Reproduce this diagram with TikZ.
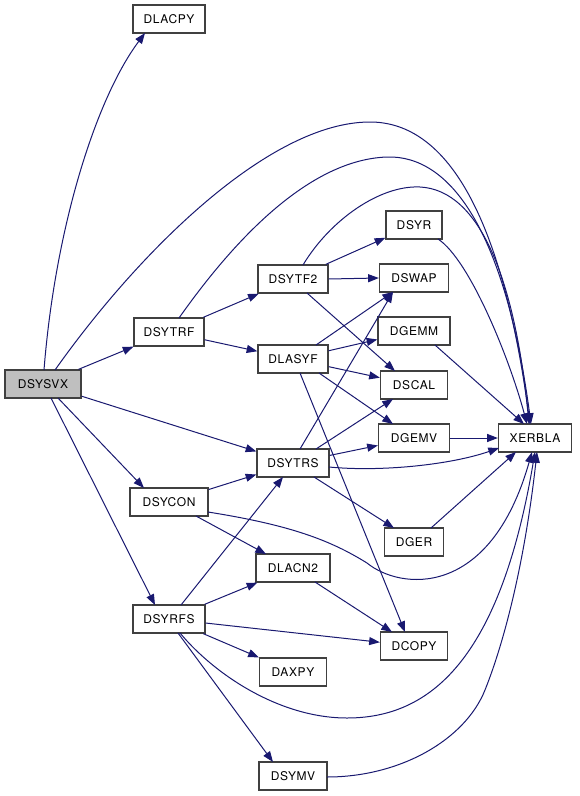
\documentclass[tikz,border=0pt]{standalone}
\usepackage{fontspec}
\setmainfont[LetterSpace=5]{TeX Gyre Heros}
\usetikzlibrary{arrows.meta,calc}
\definecolor{edgecol}{HTML}{191970}
\definecolor{boxcol}{HTML}{404040}
\definecolor{rootfill}{HTML}{BFBFBF}
\begin{document}
\begin{tikzpicture}[x=0.75pt,y=-0.75pt,
  fn/.style={draw=boxcol, line width=1pt, fill=white, minimum height=21pt, inner sep=0pt, font=\fontsize{9}{11}\selectfont},
  e/.style={draw=edgecol, line width=0.75pt, -{Triangle[length=8pt,width=6pt]}}]
\useasboundingbox (0,0) rectangle (579,796);
% nodes
\node[fn, fill=rootfill, minimum width=57pt] (sysvx) at (43,384) {DSYSVX};
\node[fn, minimum width=54pt] (lacpy) at (169,19) {DLACPY};
\node[fn, minimum width=52.5pt] (sytrf) at (169,332) {DSYTRF};
\node[fn, minimum width=52.5pt] (sytf2) at (293,279) {DSYTF2};
\node[fn, minimum width=52.5pt] (lasyf) at (293,359) {DLASYF};
\node[fn, minimum width=42pt] (syr) at (414,225) {DSYR};
\node[fn, minimum width=51.75pt] (swap) at (414,278) {DSWAP};
\node[fn, minimum width=54pt] (gemm) at (414,331) {DGEMM};
\node[fn, minimum width=50.25pt] (scal) at (414,385) {DSCAL};
\node[fn, minimum width=53.25pt] (gemv) at (414,438) {DGEMV};
\node[fn, minimum width=54.75pt] (xerbla) at (535,438) {XERBLA};
\node[fn, minimum width=54pt] (sytrs) at (293,463) {DSYTRS};
\node[fn, minimum width=58.5pt] (sycon) at (169,502) {DSYCON};
\node[fn, minimum width=44.25pt] (ger) at (414,542) {DGER};
\node[fn, minimum width=55.5pt] (lacn2) at (293,568) {DLACN2};
\node[fn, minimum width=54pt] (syrfs) at (169,619) {DSYRFS};
\node[fn, minimum width=50.25pt] (dcopy) at (414,646) {DCOPY};
\node[fn, minimum width=50.25pt] (daxpy) at (293,672) {DAXPY};
\node[fn, minimum width=51pt] (symv) at (293,776) {DSYMV};
% edges from DSYSVX
\draw[e] ($(sysvx)+(1,-14)$) .. controls (55,230) and (95,100) .. ($(lacpy)+(-24,14)$);
\draw[e] ($(sysvx)+(12,-14)$) .. controls (140,250) and (270,122) .. (370,122) .. controls (440,122) and (500,200) .. ($(xerbla)+(-5,-14)$);
\draw[e] (sysvx) -- (sytrf);
\draw[e] (sysvx) -- (sytrs);
\draw[e] ($(sysvx)+(15,14)$) -- ($(sycon)+(-25,-14)$);
\draw[e] ($(sysvx)+(8,14)$) -- ($(syrfs)+(-14,-14)$);
% DSYTRF
\draw[e] (sytrf) -- (sytf2);
\draw[e] (sytrf) -- (lasyf);
\draw[e] ($(sytrf)+(10,-14)$) .. controls (220,260) and (300,160) .. (387,157) .. controls (450,155) and (505,230) .. ($(xerbla)+(-4,-14)$);
% DSYTF2
\draw[e] (sytf2) -- (syr);
\draw[e] (sytf2.east) -- (swap.west);
\draw[e] ($(sytf2)+(14,14)$) -- ($(scal)+(-19,-14)$);
\draw[e] ($(sytf2)+(10,-14)$) .. controls (330,220) and (380,185) .. (420,187) .. controls (480,190) and (515,280) .. ($(xerbla)+(-6,-14)$);
% DSYR, DGEMM, DGEMV, DGER to XERBLA
\draw[e] ($(syr)+(24,14)$) .. controls (470,260) and (510,360) .. ($(xerbla)+(-8,-14)$);
\draw[e] ($(gemm)+(21,14)$) -- ($(xerbla)+(-11,-14)$);
\draw[e] (gemv.east) -- (xerbla.west);
\draw[e] ($(ger)+(17,-14)$) -- ($(xerbla)+(-19,14)$);
% DLASYF
\draw[e] ($(lasyf)+(23,-14)$) -- ($(swap)+(-21,14)$);
\draw[e] (lasyf) -- (gemm);
\draw[e] (lasyf) -- (scal);
\draw[e] ($(lasyf)+(26,14)$) -- ($(gemv)+(-21,-14)$);
\draw[e] ($(lasyf)+(7,14)$) -- ($(dcopy)+(-9,-14)$);
% DSYTRS
\draw[e] ($(sytrs)+(7,-14)$) -- ($(swap)+(-21,14)$);
\draw[e] ($(sytrs)+(23,-14)$) -- ($(scal)+(-21,14)$);
\draw[e] (sytrs) -- (gemv);
\draw[e] ($(sytrs)+(36,4)$) .. controls (380,472) and (450,465) .. ($(xerbla)+(-36,10)$);
\draw[e] ($(sytrs)+(21,14)$) -- ($(ger)+(-20,-14)$);
% DSYCON
\draw[e] (sycon) -- (sytrs);
\draw[e] ($(sycon)+(27,14)$) -- ($(lacn2)+(-27,-14)$);
\draw[e] ($(sycon)+(39,10)$) .. controls (290,525) and (330,540) .. (367,563) .. controls (400,590) and (490,600) .. ($(xerbla)+(-3,14)$);
% DSYRFS
\draw[e] ($(syrfs)+(12,-14)$) -- ($(sytrs)+(-10,14)$);
\draw[e] (syrfs) -- (lacn2);
\draw[e] (syrfs) -- (dcopy);
\draw[e] (syrfs) -- (daxpy);
\draw[e] ($(syrfs)+(11,14)$) .. controls (215,675) and (280,718) .. (347,718) .. controls (430,718) and (500,660) .. ($(xerbla)+(0,14)$);
\draw[e] ($(syrfs)+(9,14)$) -- ($(symv)+(-20,-14)$);
% DLACN2, DSYMV
\draw[e] ($(lacn2)+(22,14)$) -- ($(dcopy)+(-22,-14)$);
\draw[e] ($(symv)+(34,1)$) .. controls (400,777) and (465,740) .. (485,690) .. controls (505,640) and (525,560) .. ($(xerbla)+(2,14)$);
\end{tikzpicture}
\end{document}
